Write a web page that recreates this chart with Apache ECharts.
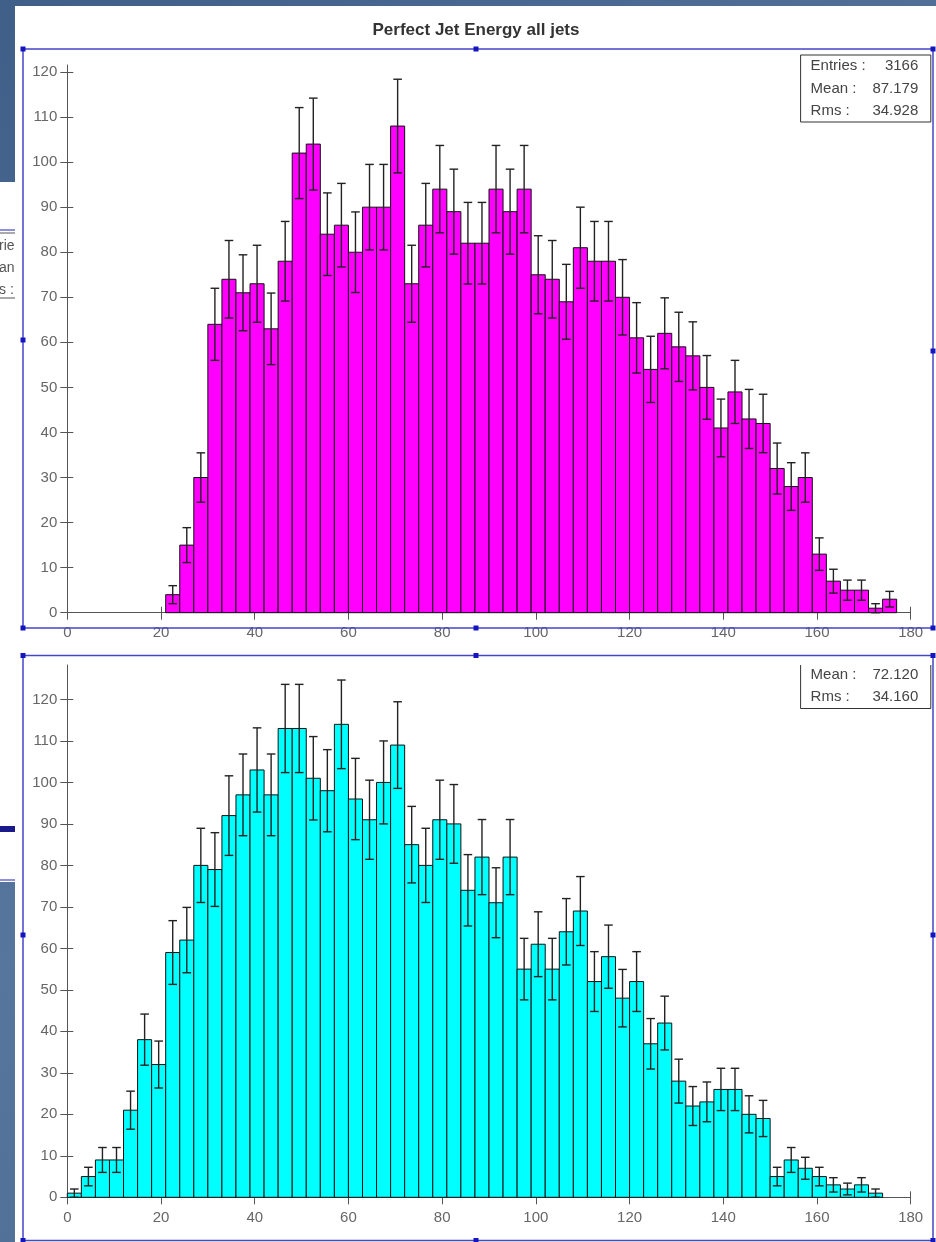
<!DOCTYPE html>
<html>
<head>
<meta charset="utf-8">
<script src="https://cdn.jsdelivr.net/npm/echarts@6/dist/echarts.min.js"></script>
<style>
html,body{margin:0;padding:0;background:#ffffff;}
#chart{width:936px;height:1242px;}
</style>
</head>
<body>
<div id="chart"></div>
<script>
// ---------------- DATA ----------------
const chartTitle = 'Perfect Jet Energy all jets';
const binWidth = 3;
const binLow = [0,3,6,9,12,15,18,21,24,27,30,33,36,39,42,45,48,51,54,57,
                60,63,66,69,72,75,78,81,84,87,90,93,96,99,102,105,108,111,114,117,
                120,123,126,129,132,135,138,141,144,147,150,153,156,159,162,165,168,171,174,177];
// top panel (magenta)
const perfectCounts = [0,0,0,0,0,0,0,4,15,30,64,74,71,73,63,78,102,104,84,86,
                       80,90,90,108,73,86,94,89,82,82,94,89,94,75,74,69,81,78,78,70,
                       61,54,62,59,57,50,41,49,43,42,32,28,30,13,7,5,5,1,3,0];
// bottom panel (cyan)
const recoCounts = [1,5,9,9,21,38,32,59,62,80,79,92,97,103,97,113,113,101,98,114,
                    96,91,100,109,85,80,91,90,74,82,71,82,55,61,55,64,69,52,58,48,
                    52,37,42,28,22,23,26,26,20,19,5,9,7,5,3,2,3,1,0,0];
const xTickValues = [0,20,40,60,80,100,120,140,160,180];
const yTickValues = [0,10,20,30,40,50,60,70,80,90,100,110,120];
const topStats = [['Entries :','3166'],['Mean :','87.179'],['Rms :','34.928']];
const bottomStats = [['Mean :','72.120'],['Rms :','34.160']];
// Poisson errors of the histogram bins
const binError = n => Math.sqrt(n);

// ---------------- LAYOUT ----------------
const FONT = '"Liberation Sans", Arial, sans-serif';
const plotLeft = 67.3, plotWidth = 843.4;
const top1 = 65, base1 = 612.7, y1max = 121.55;
const top2 = 665, base2 = 1197.3, y2max = 128.3;
const AXIS = '#555555';
const LABEL = '#666666';
const FRAME = '#4646c8';

function histData(counts){
  return binLow.map((lo,i)=>[lo, lo+binWidth, counts[i]]);
}
function barRender(fill){
  return function(params, api){
    const x0 = api.value(0), x1 = api.value(1), v = api.value(2);
    if(!v) return null;
    const a = api.coord([x0, v]), b = api.coord([x1, 0]);
    return {type:'rect', shape:{x:a[0], y:a[1], width:b[0]-a[0], height:b[1]-a[1]},
            style:{fill:fill, stroke:'#111', lineWidth:1}};
  };
}
function errRender(params, api){
  const x0 = api.value(0), x1 = api.value(1), v = api.value(2);
  if(!v) return null;
  const e = binError(v);
  const xc = (x0+x1)/2;
  const hi = api.coord([xc, v+e]), lo = api.coord([xc, v-e]);
  const cw = 4.3;
  const st = {stroke:'#222', lineWidth:1.4};
  return {type:'group', children:[
    {type:'line', shape:{x1:hi[0], y1:hi[1], x2:lo[0], y2:lo[1]}, style:st},
    {type:'line', shape:{x1:hi[0]-cw, y1:hi[1], x2:hi[0]+cw, y2:hi[1]}, style:st},
    {type:'line', shape:{x1:lo[0]-cw, y1:lo[1], x2:lo[0]+cw, y2:lo[1]}, style:st}
  ]};
}

function xAxes(gi){
  return [
    {gridIndex:gi, type:'value', min:0, max:180, interval:20, position:'bottom',
     axisLine:{show:true, onZero:false, lineStyle:{color:AXIS, width:1}},
     axisTick:{show:true, inside:false, length:7, lineStyle:{color:AXIS}, customValues:xTickValues},
     axisLabel:{show:true, color:LABEL, fontSize:15, fontFamily:FONT, margin:13, customValues:xTickValues},
     splitLine:{show:false}},
    {gridIndex:gi, type:'value', min:0, max:180, interval:20, position:'bottom',
     axisLine:{show:false, onZero:false},
     axisTick:{show:true, inside:true, length:6, lineStyle:{color:AXIS}, customValues:xTickValues},
     axisLabel:{show:false}, splitLine:{show:false}}
  ];
}
function yAxes(gi, ymax){
  return [
    {gridIndex:gi, type:'value', min:0, max:ymax, position:'left',
     axisLine:{show:true, onZero:false, lineStyle:{color:AXIS, width:1}},
     axisTick:{show:true, inside:false, length:7, lineStyle:{color:AXIS}, customValues:yTickValues},
     axisLabel:{show:true, color:LABEL, fontSize:15, fontFamily:FONT, margin:10, customValues:yTickValues},
     splitLine:{show:false}},
    {gridIndex:gi, type:'value', min:0, max:ymax, position:'left',
     axisLine:{show:false, onZero:false},
     axisTick:{show:true, inside:true, length:6, lineStyle:{color:AXIS}, customValues:yTickValues},
     axisLabel:{show:false}, splitLine:{show:false}}
  ];
}

function statsBox(lines, left, right, firstY, boxTop, boxBottom, cutTop){
  const els = [];
  if(cutTop){
    els.push({type:'polyline', z:20, shape:{points:[[left,boxTop],[left,boxBottom],[right,boxBottom],[right,boxTop]]},
              style:{stroke:'#333', lineWidth:1, fill:null}});
  } else {
    els.push({type:'rect', z:20, shape:{x:left, y:boxTop, width:right-left, height:boxBottom-boxTop},
              style:{stroke:'#333', lineWidth:1, fill:'#fff'}});
  }
  lines.forEach((ln,i)=>{
    const y = firstY + i*22.5;
    els.push({type:'text', z:21, x:left+10, y:y, style:{text:ln[0], fill:'#444', font:'15px '+FONT, textAlign:'left', textVerticalAlign:'middle'}});
    els.push({type:'text', z:21, x:right-12.5, y:y, style:{text:ln[1], fill:'#444', font:'15px '+FONT, textAlign:'right', textVerticalAlign:'middle'}});
  });
  return els;
}

function frame(x0,y0,x1,y1,midL,midR){
  const els = [{type:'rect', z:30, shape:{x:x0, y:y0, width:x1-x0, height:y1-y0},
                style:{stroke:FRAME, lineWidth:1.5, fill:null}}];
  const xm = 476;
  const pts = [[x0,y0],[xm,y0],[x1,y0],[x0,midL],[x1,midR],[x0,y1],[xm,y1],[x1,y1]];
  pts.forEach(p=>els.push({type:'rect', z:31, shape:{x:p[0]-2.5, y:p[1]-2.5, width:5, height:5}, style:{fill:'#1515c0'}}));
  return els;
}

const bgGradient = {type:'linear', x:0, y:0, x2:1, y2:1, colorStops:[
  {offset:0, color:'#3f5f89'}, {offset:0.5, color:'#56769d'}, {offset:1, color:'#44648d'}]};

const graphics = [
  // slide background
  {type:'rect', z:-10, silent:true, shape:{x:0,y:0,width:936,height:1242}, style:{fill:bgGradient}},
  // white panel
  {type:'rect', z:-9, silent:true, shape:{x:15,y:6,width:921,height:1236}, style:{fill:'#ffffff'}},
  // left strip white part (slide behind)
  {type:'rect', z:-9, silent:true, shape:{x:0,y:182,width:15,height:700}, style:{fill:'#ffffff'}},
  {type:'line', z:-8, shape:{x1:0,y1:230,x2:15,y2:230}, style:{stroke:'#6a6ad0', lineWidth:1.5}},
  {type:'line', z:-8, shape:{x1:0,y1:233,x2:15,y2:233}, style:{stroke:'#555', lineWidth:1}},
  {type:'text', z:-8, x:-1, y:246, style:{text:'rie', fill:'#555', font:'14px '+FONT, textVerticalAlign:'middle'}},
  {type:'text', z:-8, x:-1, y:268, style:{text:'an', fill:'#555', font:'14px '+FONT, textVerticalAlign:'middle'}},
  {type:'text', z:-8, x:-1, y:290, style:{text:'s :', fill:'#555', font:'14px '+FONT, textVerticalAlign:'middle'}},
  {type:'line', z:-8, shape:{x1:0,y1:298,x2:15,y2:298}, style:{stroke:'#555', lineWidth:1}},
  {type:'rect', z:-8, shape:{x:0,y:826,width:15,height:6}, style:{fill:'#1a1a8a'}},
  {type:'line', z:-8, shape:{x1:0,y1:880,x2:15,y2:880}, style:{stroke:'#6a6ad0', lineWidth:1.5}},
  // title
  {type:'text', z:20, x:476, y:30, style:{text:chartTitle, fill:'#333', font:'bold 17px '+FONT, textAlign:'center', textVerticalAlign:'middle'}}
].concat(
  statsBox(topStats, 800.6, 930.8, 66, 55, 122, false),
  statsBox(bottomStats, 800.6, 930.8, 674.6, 665, 708.5, true),
  frame(23, 49, 933, 628, 340, 351),
  frame(23, 655.5, 933, 1240.5, 935, 935)
);

const option = {
  animation:false,
  grid:[
    {left:plotLeft, top:top1, width:plotWidth, height:base1-top1, containLabel:false},
    {left:plotLeft, top:top2, width:plotWidth, height:base2-top2, containLabel:false}
  ],
  xAxis: xAxes(0).concat(xAxes(1)),
  yAxis: yAxes(0, y1max).concat(yAxes(1, y2max)),
  series:[
    {type:'custom', name:'perfect', xAxisIndex:0, yAxisIndex:0, data:histData(perfectCounts),
     renderItem:barRender('#ff00ff'), encode:{x:[0,1], y:2}, z:3, clip:false},
    {type:'custom', name:'perfectErr', xAxisIndex:0, yAxisIndex:0, data:histData(perfectCounts),
     renderItem:errRender, encode:{x:[0,1], y:2}, z:4, clip:false},
    {type:'custom', name:'reco', xAxisIndex:2, yAxisIndex:2, data:histData(recoCounts),
     renderItem:barRender('#00ffff'), encode:{x:[0,1], y:2}, z:3, clip:false},
    {type:'custom', name:'recoErr', xAxisIndex:2, yAxisIndex:2, data:histData(recoCounts),
     renderItem:errRender, encode:{x:[0,1], y:2}, z:4, clip:false}
  ],
  graphic: graphics
};
const chart = echarts.init(document.getElementById('chart'), null, {renderer:'canvas'});
chart.setOption(option);
</script>
</body>
</html>
